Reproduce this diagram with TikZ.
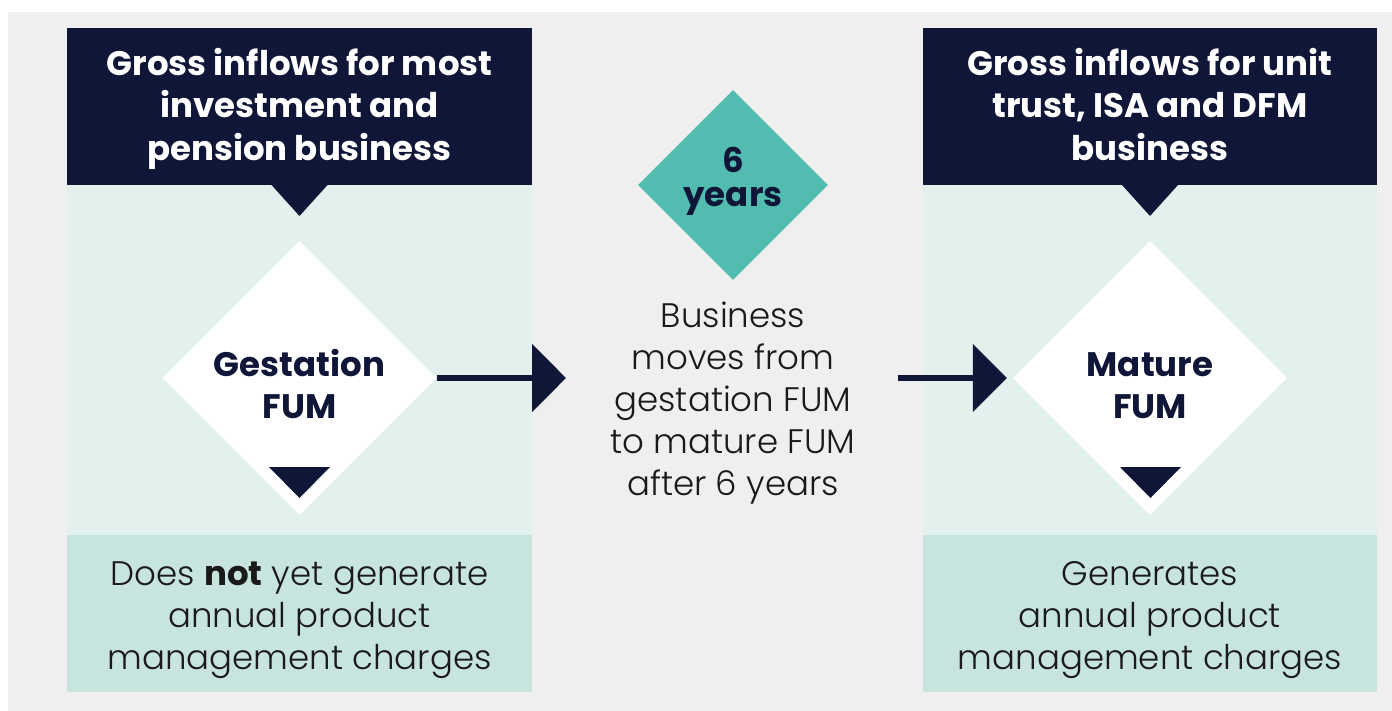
\documentclass[tikz,border=0pt]{standalone}
\usepackage{fontspec}
\setmainfont{Poppins}[UprightFont=* Light, BoldFont=* Bold]
\usetikzlibrary{shapes.geometric,arrows.meta}

\definecolor{navy}{HTML}{0F1638}
\definecolor{panel}{HTML}{E3F1EE}
\definecolor{footbox}{HTML}{C8E4DF}
\definecolor{tealbox}{HTML}{53BCB0}
\definecolor{backdrop}{HTML}{EFEFEF}
\definecolor{ink}{HTML}{1A1A1A}

\newcommand{\rowstrut}{\strut}

\tikzset{
  headbox/.style={rectangle, fill=navy, inner sep=0pt,
    minimum height=157, anchor=north west},
  headtext/.style={text=white, inner sep=0pt, align=center,
    font=\bfseries\fontsize{34}{42.5}\selectfont},
  bodybox/.style={rectangle, fill=panel, inner sep=0pt, minimum height=350,
    anchor=north west},
  footer/.style={rectangle, fill=footbox, inner sep=0pt,
    minimum height=157, anchor=north west},
  plaintext/.style={text=ink, inner sep=0pt, align=center,
    font=\fontsize{34}{42}\selectfont},
  stage/.style={diamond, aspect=1, fill=white, inner sep=0pt,
    minimum width=274, minimum height=274},
  stagelabel/.style={text=navy, font=\bfseries\fontsize{34}{42}\selectfont,
    align=center, inner sep=0pt},
  notch/.style={fill=navy},
  flow/.style={draw=navy, line width=5.5, -{Triangle[length=34, width=67]}},
}

\begin{document}
\begin{tikzpicture}[x=1pt, y=-1pt]
  \useasboundingbox (0,0) rectangle (1392,711);
  \fill[white] (0,0) rectangle (1392,711);
  \fill[backdrop] (8,12) rectangle (1392,711);

  % left column
  \node[bodybox, minimum width=465] (lbody) at (67,185) {};
  \node[headbox, minimum width=465] (lhead) at (67,28) {};
  \node[headtext] (lheadtext) at (299.5,109.5)
    {\rowstrut Gross inflows for most\\\rowstrut investment and\\\rowstrut pension business};
  \node[footer, minimum width=465] (lfoot) at (67,535) {};
  \node[plaintext] (lfoottext) at (299.5,619)
    {\rowstrut Does \textbf{not} yet generate\\\rowstrut annual product\\\rowstrut management charges};
  \fill[notch] (271.5,185) -- (299.5,216) -- (327.5,185) -- cycle;
  \node[stage] (gest) at (299.5,378) {};
  \node[stagelabel] (gestlabel) at (299.5,389) {\rowstrut Gestation\\\rowstrut FUM};
  \fill[navy] (269,467) -- (330,467) -- (299.5,498) -- cycle;

  % right column
  \node[bodybox, minimum width=454] (rbody) at (923,185) {};
  \node[headbox, minimum width=454] (rhead) at (923,28) {};
  \node[headtext] (rheadtext) at (1150,109.5)
    {\rowstrut Gross inflows for unit\\\rowstrut trust, ISA and DFM\\\rowstrut business};
  \node[footer, minimum width=454] (rfoot) at (923,535) {};
  \node[plaintext] (rfoottext) at (1150,619)
    {\rowstrut Generates\\\rowstrut annual product\\\rowstrut management charges};
  \fill[notch] (1122,185) -- (1150,216) -- (1178,185) -- cycle;
  \node[stage] (mature) at (1150,378) {};
  \node[stagelabel] (maturelabel) at (1150,389) {\rowstrut Mature\\\rowstrut FUM};
  \fill[navy] (1120,467) -- (1181,467) -- (1150.5,498) -- cycle;

  % middle: time step
  \node[diamond, aspect=1, fill=tealbox, inner sep=0pt,
        minimum width=190, minimum height=190] (years) at (733,185) {};
  \node[stagelabel, font=\bfseries\fontsize{34}{34}\selectfont]
    (yearslabel) at (733,182) {\rowstrut 6\\\rowstrut years};
  \node[plaintext] (move) at (733,403.5)
    {\rowstrut Business\\\rowstrut moves from\\\rowstrut gestation FUM\\\rowstrut to mature FUM\\\rowstrut after 6 years};

  % arrows
  \coordinate (gestend) at (566,378);
  \coordinate (maturestart) at (898,378);
  \coordinate (matureend) at ([xshift=-6]mature.west);
  \draw[flow] (gest.east) -- (gestend);
  \draw[flow] (maturestart) -- (matureend);
\end{tikzpicture}
\end{document}
